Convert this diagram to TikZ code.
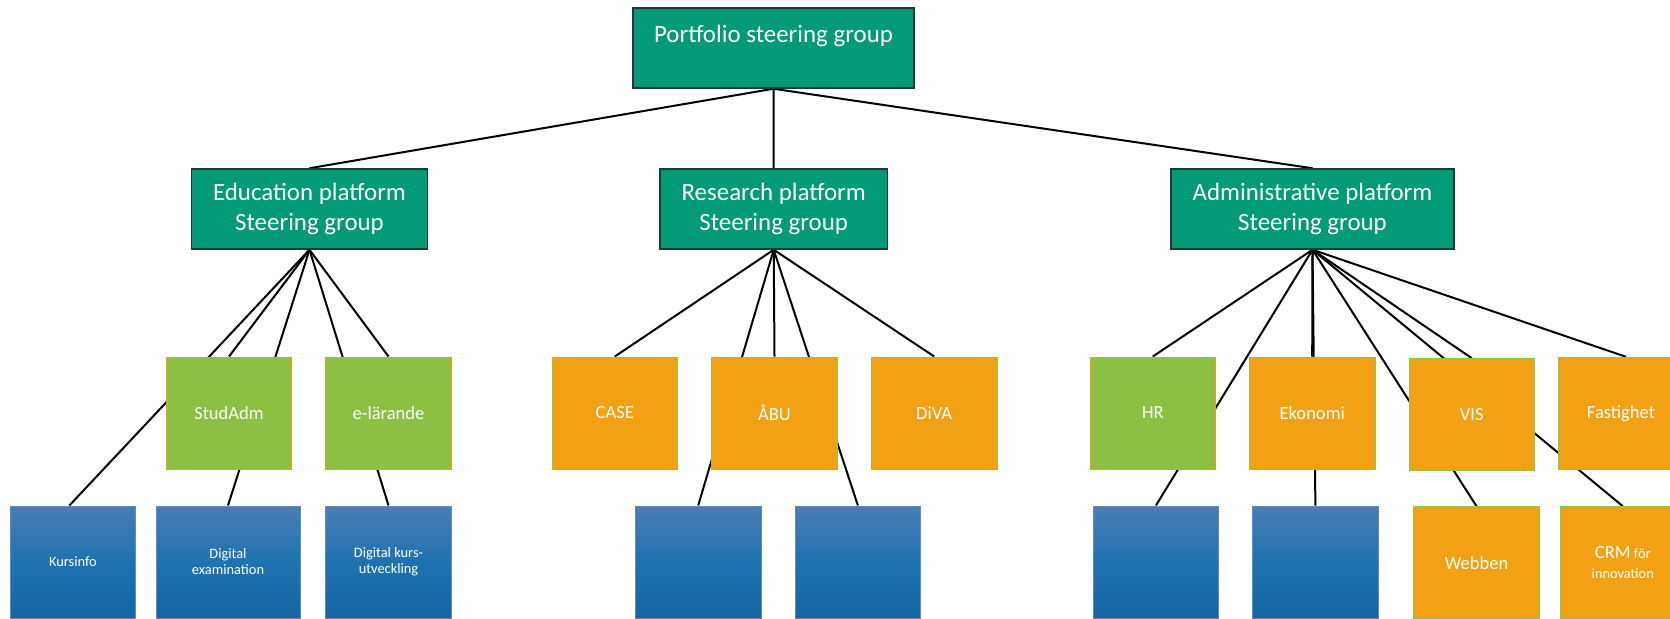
\documentclass[tikz,border=0pt]{standalone}
\usepackage{fontspec}
\setmainfont{Carlito}
\newdimen\px \px=0.75pt
\pgfdeclarelayer{bg}
\pgfsetlayers{bg,main}
\definecolor{cTeal}{HTML}{029A77}
\definecolor{cTealB}{HTML}{1E3A32}
\definecolor{cGreen}{HTML}{8CBF42}
\definecolor{cOrange}{HTML}{F2A115}
\definecolor{cOrangeB}{HTML}{F39C12}
\definecolor{cLGreen}{HTML}{8DC63F}
\definecolor{cBlueT}{HTML}{4A7DB5}
\definecolor{cBlueM}{HTML}{1F72B0}
\definecolor{cBlueB}{HTML}{1565A2}
\definecolor{cBlueE}{HTML}{5A8EC6}
\tikzset{
  plat/.style={draw=cTealB, line width=1.5\px, fill=cTeal, text=white,
    font=\fontsize{18.7}{22.5}\selectfont, align=center, inner sep=0pt,
    minimum height=80\px},
  small/.style={minimum width=125.6\px, minimum height=112\px, inner sep=0pt,
    text=white, font=\fontsize{13.9}{16}\selectfont, align=center, line width=1\px},
  greenbox/.style={small, draw=cOrangeB, fill=cGreen},
  orbox/.style={small, draw=cLGreen, fill=cOrange},
  bluebox/.style={small, draw=cBlueE, top color=cBlueT, bottom color=cBlueB,
    middle color=cBlueM, font=\fontsize{10.8}{12}\selectfont},
  conn/.style={draw=black, line width=2\px},
}
\begin{document}
\begin{tikzpicture}[x=0.75pt, y=-0.75pt]
\useasboundingbox (0,0) rectangle (1670,618);
\clip (0,0) rectangle (1670,618);
% top
\node[plat, minimum width=281\px, text height=13.5pt, text depth=21.5pt] (pf) at (773.5,48) {Portfolio steering group};
% platforms
\node[plat, minimum width=235.6\px] (edu) at (309.5,209) {Education platform\\Steering group};
\node[plat, minimum width=227.3\px] (res) at (773.7,209) {Research platform\\Steering group};
\node[plat, minimum width=283\px] (adm) at (1312.5,209) {Administrative platform\\Steering group};
% second row
\node[greenbox] (studadm) at (229,413) {StudAdm};
\node[greenbox] (elar) at (388.5,413) {e-lärande};
\node[orbox] (case) at (614.8,413) {CASE};
\node[orbox] (abu) at (774.5,413) {ÅBU};
\node[orbox] (diva) at (934.2,413) {DiVA};
\node[greenbox] (hr) at (1152.8,413) {HR};
\node[orbox] (eko) at (1312.2,413) {Ekonomi};
\node[orbox] (vis) at (1471.8,414.7) {VIS};
\node[orbox] (fast) at (1621,413.3) {Fastighet};
% third row
\node[bluebox] (kurs) at (72.9,562) {Kursinfo};
\node[bluebox, minimum width=144\px] (dexam) at (228,562) {Digital\\examination};
\node[bluebox] (dkurs) at (388.5,562) {Digital kurs-\\utveckling};
\node[bluebox] (rb1) at (698.2,562) {};
\node[bluebox] (rb2) at (857.9,562) {};
\node[bluebox] (hb) at (1155.9,562) {};
\node[bluebox] (eb) at (1315.4,562) {};
\node[orbox] (web) at (1476.5,562.7) {Webben};
\node[orbox, font=\fontsize{10.8}{15}\selectfont] (crm) at (1622.8,562.7) {{\fontsize{13.9}{15}\selectfont CRM} för\\innovation};
% connectors
\begin{pgfonlayer}{bg}
\draw[conn] (pf.south) -- (edu.north);
\draw[conn] (pf.south) -- (res.north);
\draw[conn] (pf.south) -- (adm.north);
\draw[conn] (edu.south) -- ([xshift=-3.5\px]kurs.north);
\draw[conn] (edu.south) -- (studadm.north);
\draw[conn] (edu.south) -- (dexam.north);
\draw[conn] (edu.south) -- (elar.north);
\draw[conn] (edu.south) -- (dkurs.north);
\draw[conn] (res.south) -- (case.north);
\draw[conn] (res.south) -- (rb1.north);
\draw[conn] (res.south) -- (abu.north);
\draw[conn] (res.south) -- (rb2.north);
\draw[conn] (res.south) -- (diva.north);
\draw[conn] (adm.south) -- (hr.north);
\draw[conn] (adm.south) -- (hb.north);
\draw[conn] (adm.south) -- (eko.north);
\draw[conn] (adm.south) -- (eb.north);
\draw[conn] (adm.south) -- (web.north);
\draw[conn] (adm.south) -- (crm.north);
\draw[conn] (adm.south) -- (vis.north);
\draw[conn] (adm.south) -- ([xshift=5\px]fast.north);
\end{pgfonlayer}
\end{tikzpicture}
\end{document}
